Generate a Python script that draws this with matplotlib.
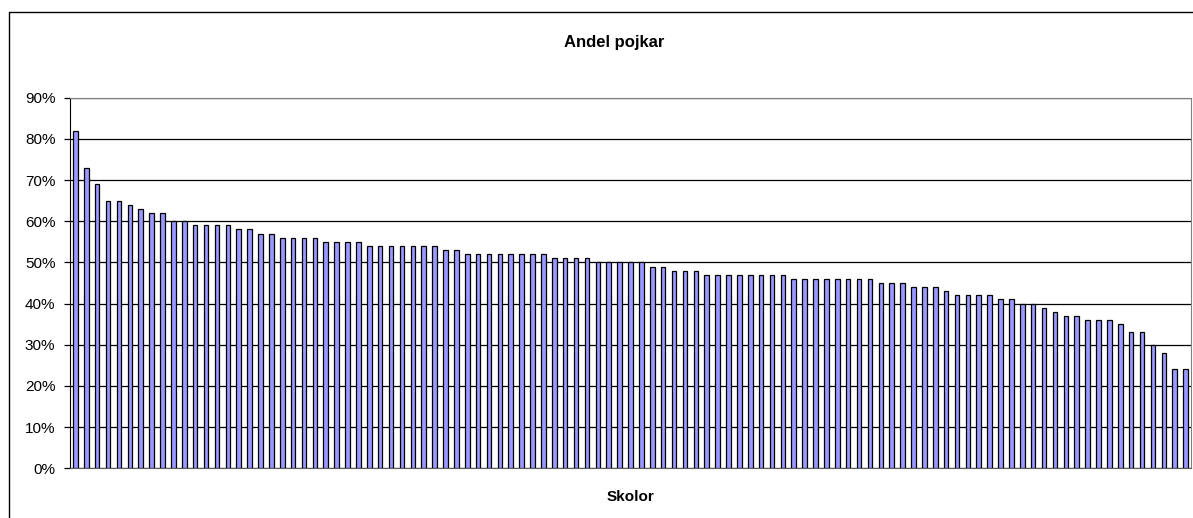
import matplotlib
matplotlib.use("Agg")
import matplotlib.pyplot as plt
from matplotlib.lines import Line2D
from matplotlib.ticker import FuncFormatter

plt.rcParams['font.family'] = ['Liberation Sans', 'DejaVu Sans']

# share of boys per school, percent (sorted descending)
andel = [82, 73, 69, 65, 65, 64, 63, 62, 62, 60, 60,
         59, 59, 59, 59, 58, 58, 57, 57, 56, 56, 56, 56,
         55, 55, 55, 55, 54, 54, 54, 54, 54, 54, 54, 53, 53,
         52, 52, 52, 52, 52, 52, 52, 52, 51, 51, 51, 51,
         50, 50, 50, 50, 50, 49, 49, 48, 48, 48,
         47, 47, 47, 47, 47, 47, 47, 47,
         46, 46, 46, 46, 46, 46, 46, 46,
         45, 45, 45, 44, 44, 44, 43, 42, 42, 42, 42, 41, 41,
         40, 40, 39, 38, 37, 37, 36, 36, 36, 35, 33, 33, 30, 28, 24, 24]
yticks = [0, 10, 20, 30, 40, 50, 60, 70, 80, 90]

W, H = 1193, 518
fig = plt.figure(figsize=(W / 100, H / 100), dpi=100)
ax = fig.add_axes([70 / W, 1 - 468.3 / H, (1191 - 70) / W, (468.3 - 97.7) / H])

x = range(len(andel))
ax.bar(x, andel, width=0.42, color='#9999ff', edgecolor='black', linewidth=0.9, zorder=3)

ax.set_xlim(-0.5, len(andel) - 0.5)
ax.set_ylim(0, 90)
ax.set_yticks(yticks)
ax.yaxis.set_major_formatter(FuncFormatter(lambda v, p: '%d%%' % v))
ax.set_xticks([])
ax.grid(axis='y', color='black', linewidth=0.9, zorder=0)
ax.tick_params(axis='y', length=4.5, width=0.9, pad=6, labelsize=11)

for s in ['top', 'right']:
    ax.spines[s].set_color('#808080')
ax.spines['bottom'].set_color('#606060')
ax.spines['left'].set_color('black')

# title is centred on the whole chart area, axis label on the plot area
fig.text(614 / W, 1 - 42 / H, 'Andel pojkar', ha='center', va='center',
         fontsize=12, fontweight='bold')
fig.text(630 / W, 1 - 497 / H, 'Skolor', ha='center', va='center',
         fontsize=11, fontweight='bold')

# outer chart border (cut off at right and bottom)
fig.add_artist(Line2D([8.5 / W, 8.5 / W, 1], [0, 1 - 12 / H, 1 - 12 / H],
                      transform=fig.transFigure, color='black', linewidth=1))

fig.savefig('out.png', dpi=100)
